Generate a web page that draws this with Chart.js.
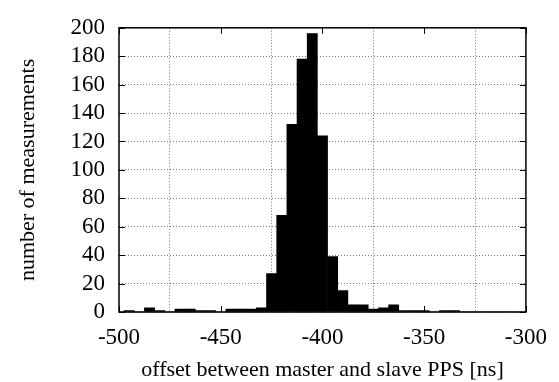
<!DOCTYPE html>
<html>
<head>
<meta charset="utf-8">
<script src="https://cdn.jsdelivr.net/npm/chart.js@4.4.1/dist/chart.umd.min.js"></script>
<style>
  html, body { margin: 0; padding: 0; background: #fff; }
  #wrap { width: 559px; height: 382px; }
</style>
</head>
<body>
<div id="wrap"><canvas id="chart"></canvas></div>
<script>
// histogram bins (centre, ns) and counts
const binCenters = [-500, -495, -490, -485, -480, -475, -470, -465, -460, -455,
                    -450, -445, -440, -435, -430, -425, -420, -415, -410, -405,
                    -400, -395, -390, -385, -380, -375, -370, -365, -360, -355,
                    -350, -345, -340, -335, -330, -325, -320, -315, -310, -305, -300];
const counts = [0, 1, 0, 3, 1, 0, 2, 2, 1, 1,
                0, 2, 2, 2, 3, 27, 68, 132, 178, 196,
                124, 39, 15, 5, 5, 2, 3, 5, 1, 1,
                1, 0, 1, 1, 0, 0, 0, 0, 0, 0, 0];
const xTicks = [-500, -450, -400, -350, -300];
const yTicks = [0, 20, 40, 60, 80, 100, 120, 140, 160, 180, 200];

const tickFont = { family: 'Liberation Serif', size: 23 };
const titleFont = { family: 'Liberation Serif', size: 22, lineHeight: 1 };

// gnuplot style box with inward ticks on all four sides
const frame = {
  id: 'frame',
  afterDatasetsDraw(chart) {
    const { ctx, chartArea: a, scales: { x, y } } = chart;
    ctx.save();
    ctx.strokeStyle = '#000';
    ctx.lineWidth = 1;
    ctx.beginPath();
    xTicks.forEach(v => {
      const px = Math.round(x.getPixelForValue(v)) + 0.5;
      ctx.moveTo(px, a.bottom); ctx.lineTo(px, a.bottom - 6);
      ctx.moveTo(px, a.top); ctx.lineTo(px, a.top + 6);
    });
    yTicks.forEach(v => {
      const py = Math.round(y.getPixelForValue(v)) + 0.5;
      ctx.moveTo(a.left, py); ctx.lineTo(a.left + 6, py);
      ctx.moveTo(a.right, py); ctx.lineTo(a.right - 6, py);
    });
    ctx.stroke();
    ctx.lineWidth = 1.5;
    ctx.strokeRect(a.left, a.top, a.right - a.left, a.bottom - a.top);
    ctx.restore();
  }
};

new Chart('chart', {
  type: 'bar',
  data: {
    datasets: [{
      data: binCenters.map((c, i) => ({ x: c, y: counts[i] })),
      backgroundColor: '#000',
      borderWidth: 0,
      barPercentage: 1,
      categoryPercentage: 1
    }]
  },
  options: {
    responsive: true,
    maintainAspectRatio: false,
    animation: false,
    layout: { padding: { top: 19, right: 31, left: 0, bottom: 0 } },
    plugins: { legend: { display: false }, tooltip: { enabled: false } },
    scales: {
      x: {
        type: 'linear',
        min: -500,
        max: -300,
        offset: false,
        afterBuildTicks: s => { s.ticks = xTicks.map(v => ({ value: v })); },
        afterFit: s => { s.height = 70; },
        ticks: { color: '#000', font: tickFont, padding: 12, maxRotation: 0, autoSkip: false },
        grid: { color: '#777', lineWidth: 1, drawTicks: false },
        border: { display: false, dash: [1, 2] },
        title: {
          display: true,
          text: 'offset between master and slave PPS [ns]',
          color: '#000',
          font: titleFont,
          padding: { top: 0, bottom: 1 }
        }
      },
      y: {
        min: 0,
        max: 200,
        afterBuildTicks: s => { s.ticks = yTicks.map(v => ({ value: v })); },
        afterFit: s => { s.width = 119; },
        ticks: { color: '#000', font: tickFont, padding: 14, autoSkip: false },
        grid: { color: '#777', lineWidth: 1, drawTicks: false },
        border: { display: false, dash: [1, 2] },
        title: {
          display: true,
          text: 'number of measurements',
          color: '#000',
          font: titleFont,
          padding: { top: 17, bottom: 0 }
        }
      }
    }
  },
  plugins: [frame]
});
</script>
</body>
</html>
